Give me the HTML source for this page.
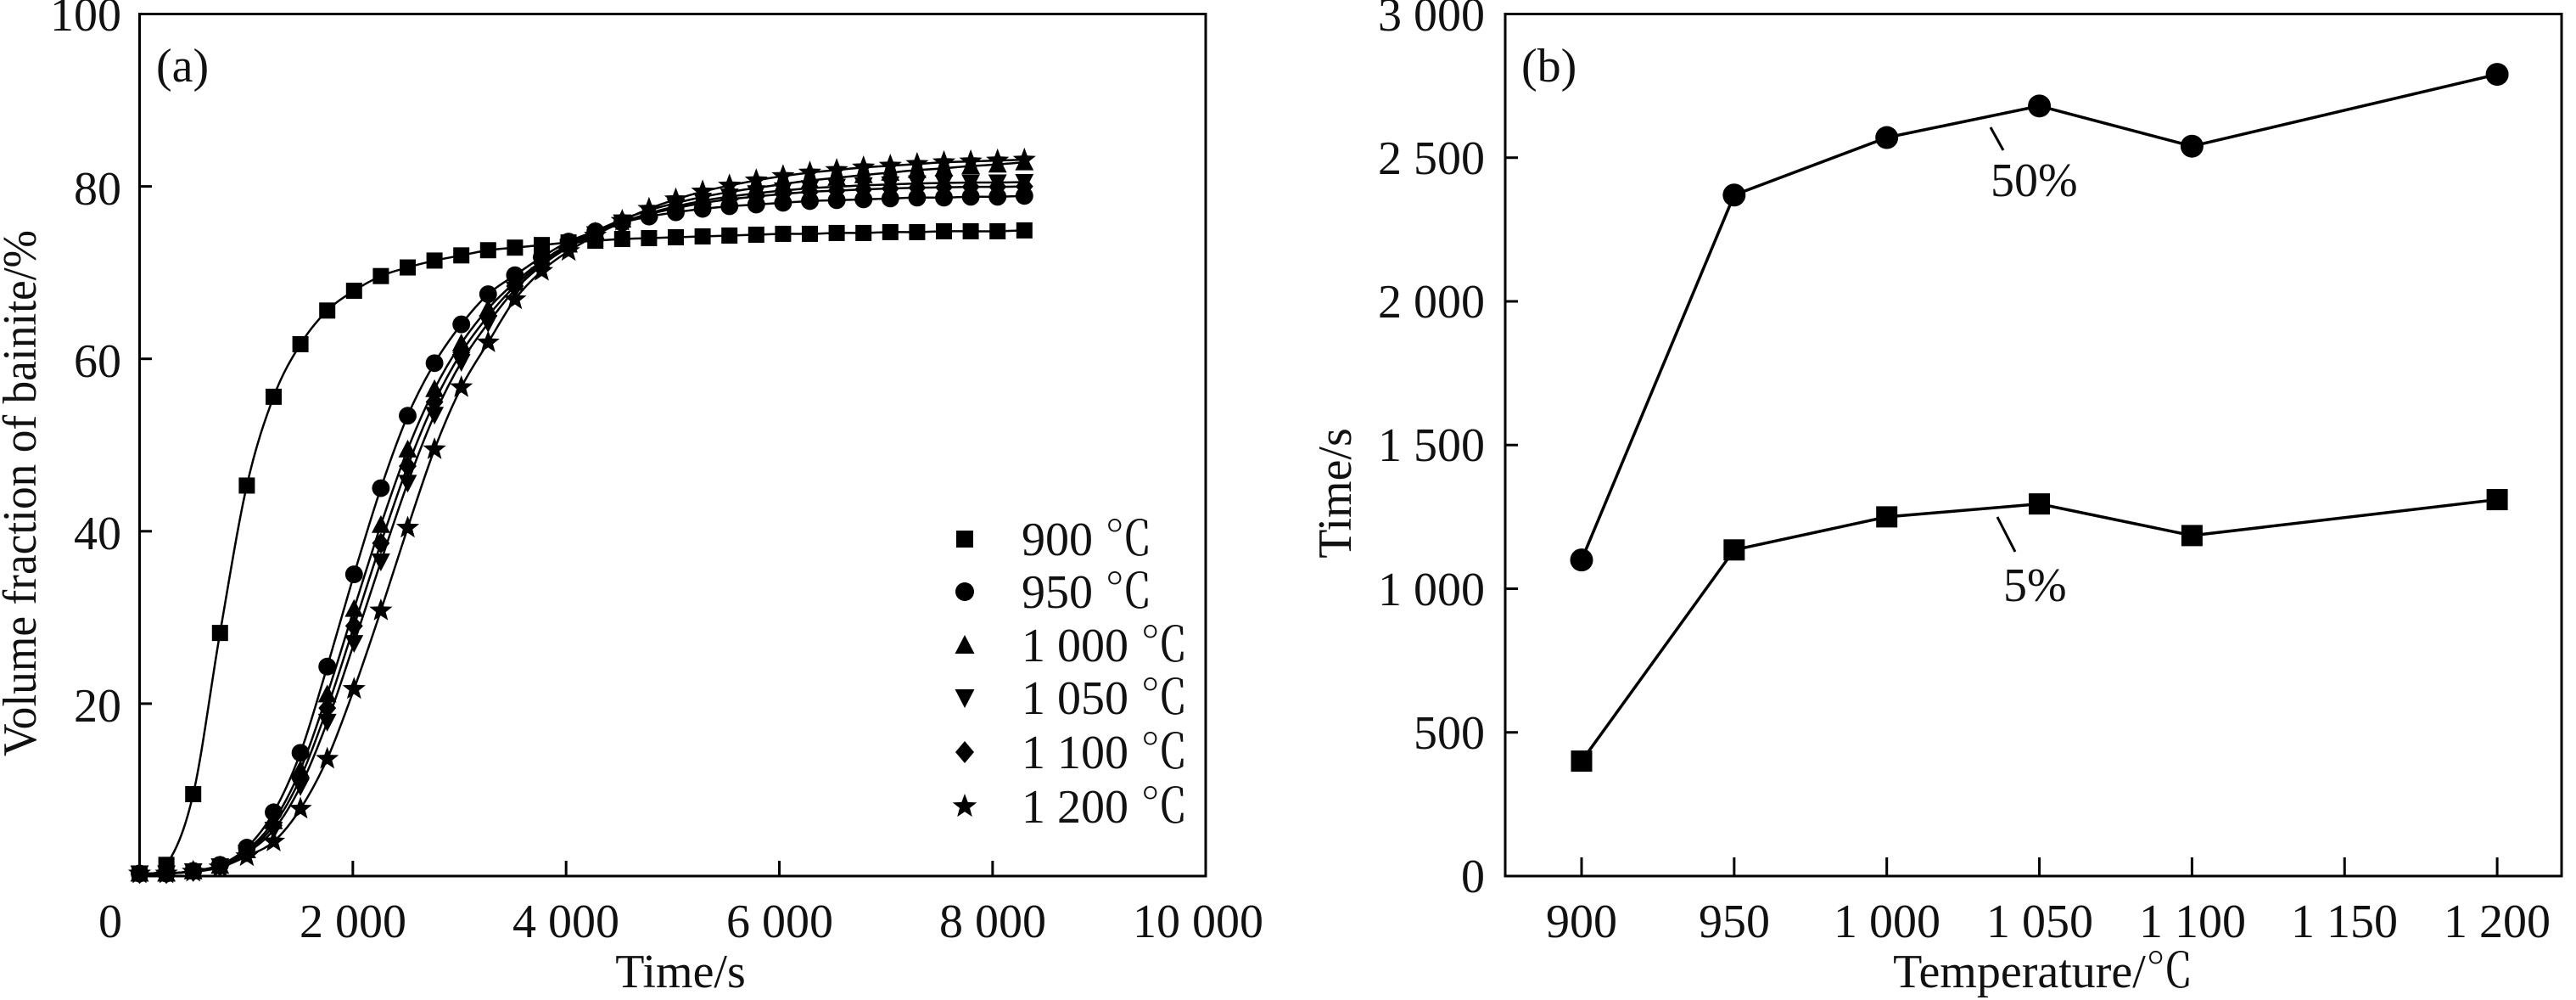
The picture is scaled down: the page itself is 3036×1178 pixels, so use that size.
<!DOCTYPE html>
<html><head><meta charset="utf-8"><style>
html,body{margin:0;padding:0;background:#fff;overflow:hidden;}
svg{display:block;}
text{font-family:"Liberation Serif","Noto Serif CJK SC",serif;fill:#111;}
</style></head><body>
<svg id="s" width="3036" height="1178" viewBox="0 0 3036 1178" xmlns="http://www.w3.org/2000/svg">
<g id="plots"></g>
<rect x="164.5" y="16.5" width="1256.5" height="1015.5" fill="none" stroke="#000" stroke-width="3"/>
<g font-size="56">
<text x="143" y="36" text-anchor="end">100</text>
<text x="143" y="241" text-anchor="end">80</text>
<text x="143" y="444" text-anchor="end">60</text>
<text x="143" y="647" text-anchor="end">40</text>
<text x="143" y="850" text-anchor="end">20</text>
<text x="130" y="1104" text-anchor="middle">0</text>
<text x="416" y="1104" text-anchor="middle">2 000</text>
<text x="667" y="1104" text-anchor="middle">4 000</text>
<text x="919" y="1104" text-anchor="middle">6 000</text>
<text x="1170" y="1104" text-anchor="middle">8 000</text>
<text x="1412" y="1104" text-anchor="middle">10 000</text>
<text x="802" y="1163" text-anchor="middle">Time/s</text>
<text x="184" y="96">(a)</text>
<text transform="translate(42,581) rotate(-90)" text-anchor="middle" textLength="620" lengthAdjust="spacingAndGlyphs">Volume fraction of bainite/%</text>
<text x="1204" y="654">900 ℃</text>
<text x="1204" y="716">950 ℃</text>
<text x="1204" y="779">1 000 ℃</text>
<text x="1204" y="841">1 050 ℃</text>
<text x="1204" y="905">1 100 ℃</text>
<text x="1204" y="969">1 200 ℃</text>
</g>
<rect x="1774" y="16.5" width="1245" height="1015.5" fill="none" stroke="#000" stroke-width="3"/>
<g font-size="56">
<text x="1750" y="36" text-anchor="end">3 000</text>
<text x="1750" y="205" text-anchor="end">2 500</text>
<text x="1750" y="374" text-anchor="end">2 000</text>
<text x="1750" y="543" text-anchor="end">1 500</text>
<text x="1750" y="713" text-anchor="end">1 000</text>
<text x="1750" y="882" text-anchor="end">500</text>
<text x="1750" y="1051" text-anchor="end">0</text>
<text x="1864" y="1104" text-anchor="middle">900</text>
<text x="2044" y="1104" text-anchor="middle">950</text>
<text x="2224" y="1104" text-anchor="middle">1 000</text>
<text x="2404" y="1104" text-anchor="middle">1 050</text>
<text x="2584" y="1104" text-anchor="middle">1 100</text>
<text x="2763" y="1104" text-anchor="middle">1 150</text>
<text x="2943" y="1104" text-anchor="middle">1 200</text>
<text x="2408" y="1163" text-anchor="middle">Temperature/℃</text>
<text x="1793" y="96">(b)</text>
<text transform="translate(1592,581) rotate(-90)" text-anchor="middle">Time/s</text>
<text x="2346" y="231">50%</text>
<text x="2361" y="708">5%</text>
</g>
<line x1="2346" y1="150" x2="2361" y2="177" stroke="#000" stroke-width="3"/>
<line x1="2354" y1="609" x2="2375" y2="650" stroke="#000" stroke-width="3"/>
</svg>
<script>
var NS="http://www.w3.org/2000/svg",G=document.getElementById('plots');
function el(n,a){var e=document.createElementNS(NS,n);for(var k in a)e.setAttribute(k,a[k]);G.appendChild(e);return e;}
function smooth(p){var d="M"+p[0][0]+","+p[0][1];for(var i=0;i<p.length-1;i++){var p0=p[i-1]||p[i],p1=p[i],p2=p[i+1],p3=p[i+2]||p2;
d+=" C"+(p1[0]+(p2[0]-p0[0])/6)+","+(p1[1]+(p2[1]-p0[1])/6)+" "+(p2[0]-(p3[0]-p1[0])/6)+","+(p2[1]-(p3[1]-p1[1])/6)+" "+p2[0]+","+p2[1];}return d;}
function star(cx,cy,R){var r=R*0.42,s="";for(var i=0;i<10;i++){var a=-Math.PI/2+i*Math.PI/5,rr=i%2?r:R;s+=(cx+rr*Math.cos(a)).toFixed(1)+","+(cy+rr*Math.sin(a)).toFixed(1)+" ";}return s;}
function marker(t,x,y,s){
 if(t=='sq')el('rect',{x:x-s,y:y-s,width:2*s,height:2*s,fill:'#000'});
 else if(t=='c')el('circle',{cx:x,cy:y,r:s*1.1,fill:'#000'});
 else if(t=='tu')el('polygon',{points:(x-s*1.15)+","+(y+s)+" "+(x+s*1.15)+","+(y+s)+" "+x+","+(y-s*1.2),fill:'#000'});
 else if(t=='td')el('polygon',{points:(x-s*1.15)+","+(y-s)+" "+(x+s*1.15)+","+(y-s)+" "+x+","+(y+s*1.2),fill:'#000'});
 else if(t=='d')el('polygon',{points:x+","+(y-s*1.3)+" "+(x+s*1.1)+","+y+" "+x+","+(y+s*1.3)+" "+(x-s*1.1)+","+y,fill:'#000'});
 else if(t=='st')el('polygon',{points:star(x,y,s*1.5),fill:'#000'});
}
var a900=[0.3,1.3,9.5,28.2,45.3,55.6,61.7,65.6,67.9,69.6,70.6,71.4,72,72.6,72.9,73.2,73.5,73.7,73.9,74,74.1,74.2,74.3,74.4,74.5,74.5,74.6,74.6,74.7,74.7,74.8,74.8,74.8,74.9];
var a950=[0.3,0.3,0.6,1.3,3.3,7.4,14.3,24.3,35,45,53.4,59.5,64,67.5,69.7,71.8,73.6,74.8,75.8,76.5,77,77.4,77.7,77.9,78.1,78.3,78.4,78.5,78.6,78.7,78.7,78.8,78.8,78.9];
var a1200=[0.3,0.3,0.5,1.0,2.3,4.0,7.8,13.6,21.7,30.8,40.4,49.5,56.7,61.9,66.9,70.2,72.5,74.3,76,77.4,78.5,79.4,80.1,80.7,81.2,81.6,81.9,82.2,82.4,82.6,82.8,82.9,83,83.1];
function mix(w,fin){return a950.map(function(v,i){var m=v*(1-w)+a1200[i]*w;return i>16?m+(fin-(a950[33]*(1-w)+a1200[33]*w))*(i-16)/17:m;});}
var series=[[a900,'sq'],[a950,'c'],[mix(0.3,82.8),'tu'],[mix(0.6,80.5),'td'],[mix(0.45,80),'d'],[a1200,'st']];
function X(k){return 164.5+31.6*k;}function Y(v){return 1032-v*10.155;}
series.forEach(function(s){var p=s[0].map(function(v,k){return[X(k),Y(v)];});
 el('path',{d:smooth(p),fill:'none',stroke:'#000','stroke-width':2.5});
 p.forEach(function(q){marker(s[1],q[0],q[1],9.5);});});
[20,40,60,80].forEach(function(v){el('line',{x1:164.5,x2:179,y1:Y(v),y2:Y(v),stroke:'#000','stroke-width':3});});
[2000,4000,6000,8000].forEach(function(t){var x=164.5+t*0.12567;el('line',{x1:x,x2:x,y1:1032,y2:1014,stroke:'#000','stroke-width':3});});
['sq','c','tu','td','d','st'].forEach(function(m,i){marker(m,1137,[635,697,760,822,886,950][i],10);});
function BX(T){return 1864+(T-900)*3.597;}function BY(v){return 1032-v*0.3385;}
var T=[900,950,1000,1050,1100,1200],s50=[1100,2370,2570,2680,2540,2790],s5=[400,1135,1250,1295,1185,1310];
[[s50,'c'],[s5,'sq']].forEach(function(s){var p=T.map(function(t,i){return[BX(t),BY(s[0][i])];});
 el('polyline',{points:p.join(' '),fill:'none',stroke:'#000','stroke-width':3.5});
 p.forEach(function(q){if(s[1]=='c')el('circle',{cx:q[0],cy:q[1],r:13.5,fill:'#000'});else el('rect',{x:q[0]-12.5,y:q[1]-12.5,width:25,height:25,fill:'#000'});});});
[500,1000,1500,2000,2500].forEach(function(v){el('line',{x1:1774,x2:1789,y1:BY(v),y2:BY(v),stroke:'#000','stroke-width':3});});
[900,950,1000,1050,1100,1150,1200].forEach(function(t){el('line',{x1:BX(t),x2:BX(t),y1:1032,y2:1010,stroke:'#000','stroke-width':3});});
</script>
</body></html>
